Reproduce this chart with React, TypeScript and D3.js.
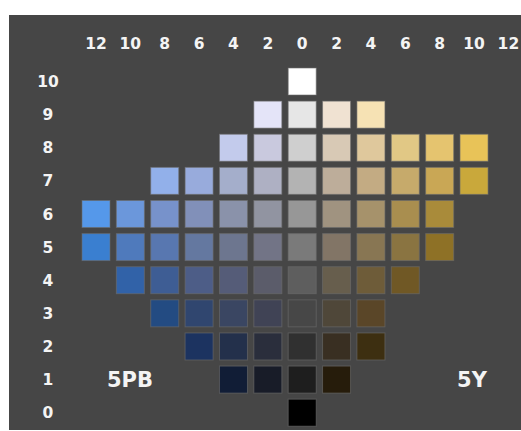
import React from 'react';
import * as d3 from 'd3';

// Munsell value rows (0 = black .. 10 = white)
const VALUES = [0, 1, 2, 3, 4, 5, 6, 7, 8, 9, 10];
// chroma tick positions (signed: negative = 5PB side, positive = 5Y side)
const CHROMA_TICKS = [-12, -10, -8, -6, -4, -2, 0, 2, 4, 6, 8, 10, 12];

// neutral axis, indexed by value
const NEUTRAL = ['#000000', '#1e1e1e', '#303030', '#474747', '#5e5e5e', '#7a7a7a', '#979797', '#b3b3b3', '#cfcfcf', '#e6e6e6', '#ffffff'];

// 5PB chips per value, chroma 2, 4, 6 ...
const PB_ROWS: Record<number, string[]> = {
  9: ['#e4e4f8'],
  8: ['#c9c9de', '#c3cbec'],
  7: ['#aeb0c3', '#a4aecb', '#98abdc', '#92b0ea'],
  6: ['#9194a1', '#8a92aa', '#8190b9', '#7792cb', '#6b97db', '#5598ea'],
  5: ['#727486', '#6d768f', '#6478a0', '#5877b0', '#4f7abc', '#3a7fd0'],
  4: ['#5b5c6a', '#555c78', '#4d5d87', '#3e5d94', '#3162a8'],
  3: ['#404355', '#3a4662', '#30466f', '#234b82'],
  2: ['#2a2e3c', '#23304b', '#1c3360'],
  1: ['#181c28', '#111d36'],
};

// 5Y chips per value, chroma 2, 4, 6 ...
const Y_ROWS: Record<number, string[]> = {
  9: ['#f0e2d2', '#f6e2b4'],
  8: ['#d8c9b5', '#dfc89c', '#e1c885', '#e5c46f', '#e8c358'],
  7: ['#bdad9a', '#c3ab83', '#c6aa6b', '#c9a755', '#c9a83b'],
  6: ['#a09380', '#a6926b', '#a98e4f', '#a98b3a'],
  5: ['#827566', '#887653', '#8a7441', '#8e7126'],
  4: ['#675e4d', '#6e5c39', '#705825'],
  3: ['#4f4739', '#5a4628'],
  2: ['#392f22', '#3d2f11'],
  1: ['#261c0b'],
};

const HUE_LABELS = ['5PB', '5Y'];

const W = 521;
const H = 431;
const FONT = '"DejaVu Sans", sans-serif';

const App: React.FC = () => {
  const x = d3.scaleLinear().domain([-12, 12]).range([96, 508.4]);
  const y = d3.scaleLinear().domain([0, 10]).range([412.7, 81.5]);
  const cw = 29;
  const ch = 28;

  const chips: { c: number; v: number; color: string }[] = [];
  VALUES.forEach(v => chips.push({ c: 0, v, color: NEUTRAL[v] }));
  Object.entries(PB_ROWS).forEach(([v, cols]) =>
    cols.forEach((color, i) => chips.push({ c: -(i + 1) * 2, v: +v, color })));
  Object.entries(Y_ROWS).forEach(([v, cols]) =>
    cols.forEach((color, i) => chips.push({ c: (i + 1) * 2, v: +v, color })));

  return (
    <div style={{ position: 'absolute', left: 0, top: 0 }}>
      <style>{`body{margin:0;background:#fff}`}</style>
      <svg width={W} height={H} style={{ display: 'block' }}>
        <rect x={9} y={15} width={W - 9} height={415} fill="#464646" />

        {chips.map((d, i) => (
          <rect
            key={i}
            x={x(d.c) - cw / 2 + 0.5}
            y={y(d.v) - ch / 2 + 0.5}
            width={cw - 1}
            height={ch - 1}
            fill={d.color}
            stroke="#6e6e6e"
            strokeOpacity={0.6}
            strokeWidth={1}
          />
        ))}

        {CHROMA_TICKS.map(t => (
          <text
            key={'c' + t}
            x={x(t)}
            y={43}
            dy="0.36em"
            textAnchor="middle"
            fill="#f4f4f4"
            fontFamily={FONT}
            fontWeight="bold"
            fontSize={15.5}
          >{Math.abs(t)}</text>
        ))}

        {VALUES.map(v => (
          <text
            key={'v' + v}
            x={48}
            y={y(v)}
            dy="0.36em"
            textAnchor="middle"
            fill="#f4f4f4"
            fontFamily={FONT}
            fontWeight="bold"
            fontSize={15.5}
          >{v}</text>
        ))}

        <text x={130} y={y(1)} dy="0.36em" textAnchor="middle" fill="#f4f4f4"
          fontFamily={FONT} fontWeight="bold" fontSize={21}>{HUE_LABELS[0]}</text>
        <text x={472} y={y(1)} dy="0.36em" textAnchor="middle" fill="#f4f4f4"
          fontFamily={FONT} fontWeight="bold" fontSize={21}>{HUE_LABELS[1]}</text>
      </svg>
    </div>
  );
};

export default App;
